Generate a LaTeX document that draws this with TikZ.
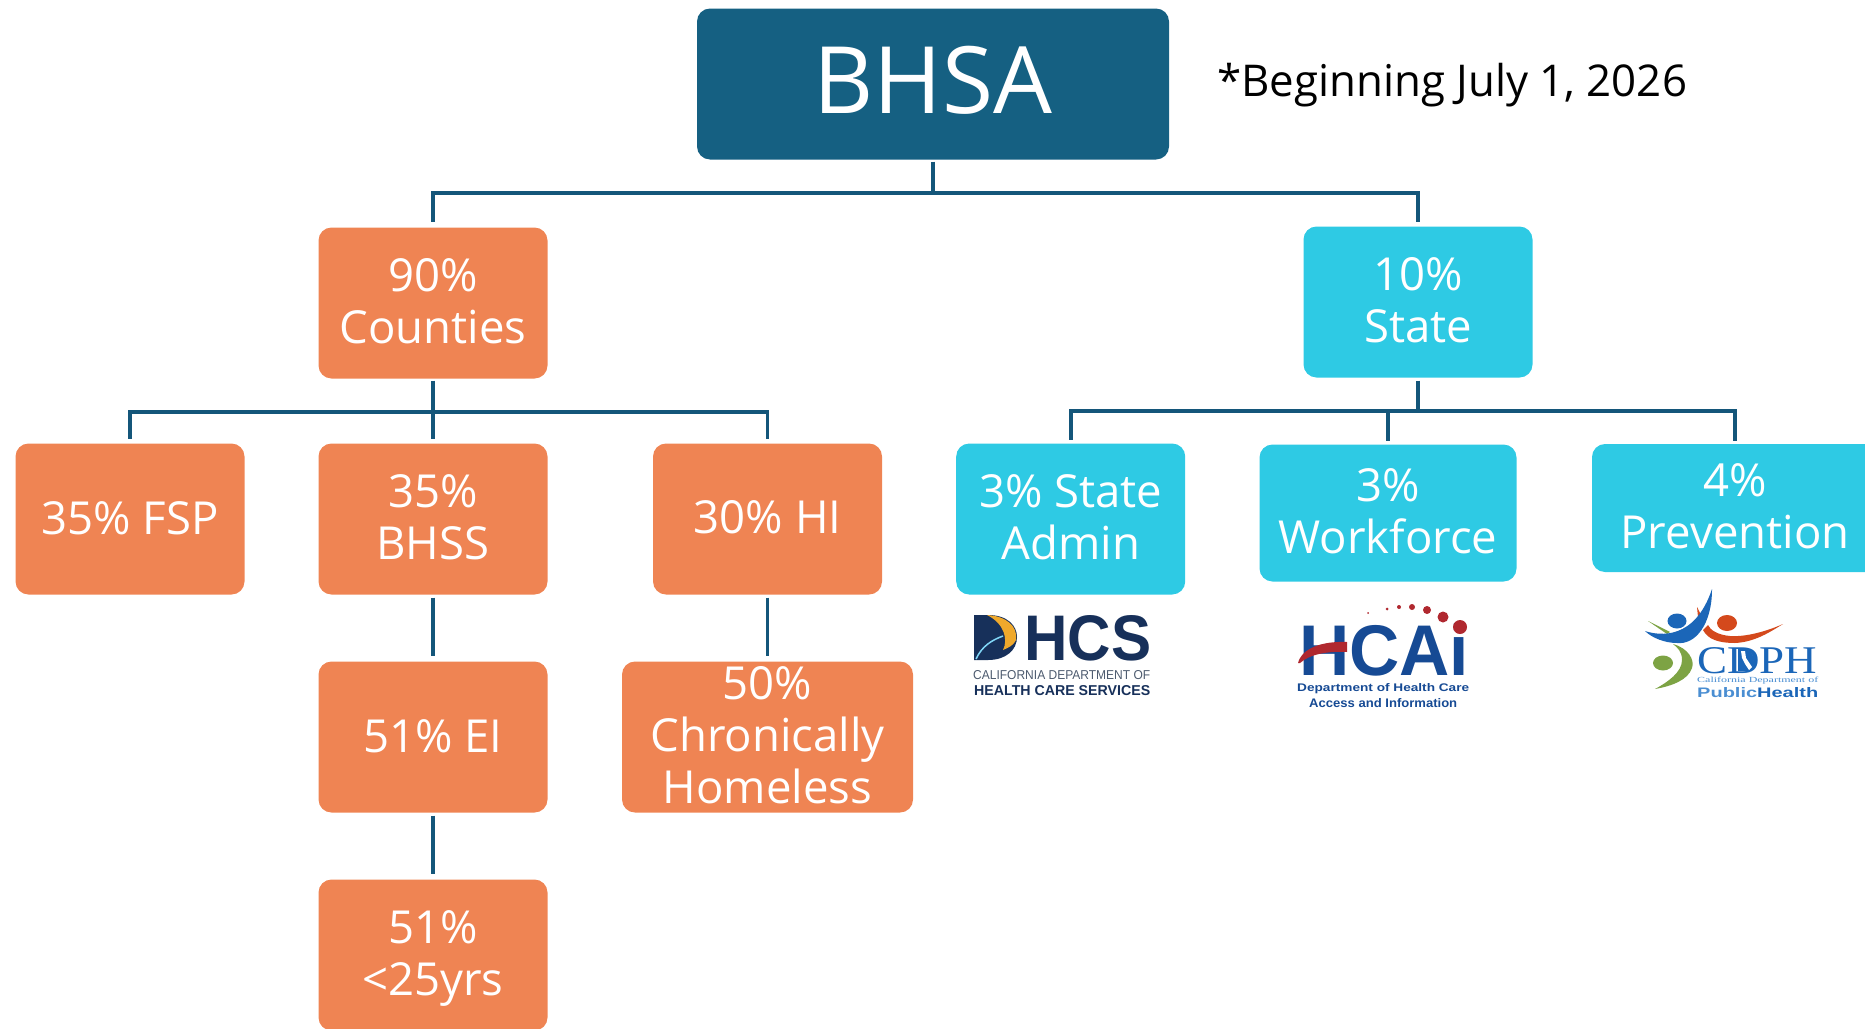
\documentclass[tikz,border=0pt]{standalone}
\usepackage{fontspec}
\usepackage{graphicx}
\setmainfont{Open Sans}
\newfontfamily\serifcdph{Liberation Serif}
\newfontfamily\logosans{Liberation Sans}
\definecolor{navy}{HTML}{156082}
\definecolor{wirec}{HTML}{14567A}
\definecolor{orangebox}{HTML}{EF8453}
\definecolor{cyanbox}{HTML}{2ECAE4}
\definecolor{dhcsnavy}{HTML}{17305A}
\definecolor{dhcsgrey}{HTML}{4C5A6E}
\definecolor{dhcsgold}{HTML}{EFA92C}
\definecolor{hcaiblue}{HTML}{164A94}
\definecolor{hcaired}{HTML}{B0282F}
\definecolor{cdphblue}{HTML}{1B66B8}
\definecolor{cdphorange}{HTML}{D4491C}
\definecolor{cdphgreen}{HTML}{7DA344}
\definecolor{cdphlight}{HTML}{4A8ED2}
\newcommand{\fitbox}[3]{\resizebox{#1pt}{#2pt}{#3}}
\tikzset{
  x=1pt,y=-1pt,
  pbox/.style={rounded corners=13pt,inner sep=0pt,minimum width=229pt,minimum height=151pt},
  lbl/.style={text=white,align=center,inner sep=0pt,font=\fontsize{45.5}{52}\selectfont},
  orangeb/.style={pbox,fill=orangebox},
  cyanb/.style={pbox,fill=cyanbox},
  wire/.style={draw=wirec,line width=3.7pt},
  logotext/.style={inner sep=0pt,anchor=north west,font=\logosans},
}
\begin{document}
\begin{tikzpicture}
\useasboundingbox (0,0) rectangle (1865,1028);
\clip (0,0) rectangle (1865,1028);
% boxes
\node[pbox,fill=navy,minimum width=472pt,minimum height=151pt,label={[lbl,name=bhsat,yshift=3.5pt,font=\fontsize{93}{93}\selectfont]center:BHSA}] (bhsa) at (933,84) {};
\node[inner sep=0pt,anchor=west,font=\fontsize{43.8}{50}\selectfont] (note) at (1217,85.5) {*Beginning July 1, 2026};
\node[orangeb,label={[lbl,name=countiest,yshift=2pt]center:90\%\\Counties}] (counties) at (433,303) {};
\node[cyanb,label={[lbl,name=statet,yshift=2pt]center:10\%\\State}] (state) at (1418,302) {};
\node[orangeb,label={[lbl,name=fspt,yshift=1pt]center:35\% FSP}] (fsp) at (130,519) {};
\node[orangeb,label={[lbl,name=bhsst,yshift=2pt]center:35\%\\BHSS}] (bhss) at (433,519) {};
\node[orangeb,label={[lbl,name=hit,yshift=2pt]center:30\% HI}] (hi) at (767.5,519) {};
\node[orangeb,label={[lbl,name=eit,yshift=1pt]center:51\% EI}] (ei) at (433,737) {};
\node[orangeb,minimum width=291pt,label={[lbl,name=chronict,yshift=2pt]center:50\%\\Chronically\\Homeless}] (chronic) at (767.5,737) {};
\node[orangeb,label={[lbl,name=youtht,yshift=-3pt]center:51\%\\<25yrs}] (youth) at (433,955) {};
\node[cyanb,label={[lbl,name=admint,yshift=2pt]center:3\% State\\Admin}] (admin) at (1070.7,519) {};
\node[cyanb,minimum width=257pt,minimum height=137pt,label={[lbl,name=workt,yshift=2pt]center:3\%\\Workforce}] (work) at (1388,513) {};
\node[cyanb,minimum width=286pt,minimum height=128pt,label={[lbl,name=prevt,yshift=2pt]center:4\%\\Prevention}] (prev) at (1735,508) {};
% connectors
\coordinate (topj) at (933,193);
\coordinate (leftj) at (433,412);
\coordinate (rightj) at (1418,411);
\draw[wire,shorten <=2pt] (bhsa.south) -- (topj);
\draw[wire,shorten >=5pt] (topj) -| (counties.north);
\draw[wire,shorten >=4pt] (topj) -| (state.north);
\draw[wire,shorten <=2pt] (counties.south) -- (leftj);
\draw[wire,shorten >=4pt] (leftj) -| (fsp.north);
\draw[wire,shorten >=4pt] (leftj) -- (bhss.north);
\draw[wire,shorten >=4pt] (leftj) -| (hi.north);
\draw[wire,shorten <=3pt] (state.south) -- (rightj);
\draw[wire,shorten >=3pt] (rightj) -| (admin.north);
\draw[wire,shorten >=3pt] (rightj) -| (work.north);
\draw[wire,shorten >=3pt] (rightj) -| (prev.north);
\draw[wire,shorten <=3pt,shorten >=5pt] (bhss.south) -- (ei.north);
\draw[wire,shorten <=3pt,shorten >=5pt] (hi.south) -- (chronic.north);
\draw[wire,shorten <=3pt,shorten >=5pt] (ei.south) -- (youth.north);
% DHCS logo
\fill[dhcsnavy] (974,615) -- (988,615) .. controls (1008,615) and (1017,626) .. (1017,637) .. controls (1017,650) and (1006,660) .. (988,660) -- (974,660) -- cycle;
\fill[dhcsgold] (987,615) .. controls (1006,616) and (1018,626) .. (1016,640) .. controls (1014,645) and (1008,648) .. (1003,650) .. controls (1008,640) and (1005,624) .. (987,615) -- cycle;
\draw[cyan!50!white,line width=1.5pt] (976,659) .. controls (982,646) and (992,640) .. (1003,636);
\node[logotext,text=dhcsnavy] (dhcst) at (1024,615) {\fitbox{127}{45}{\bfseries HCS}};
\node[logotext,text=dhcsgrey] (dhcsa) at (973,670) {\fitbox{177}{9}{CALIFORNIA DEPARTMENT OF}};
\node[logotext,text=dhcsnavy] (dhcsb) at (974,685) {\fitbox{176}{10}{\bfseries HEALTH CARE SERVICES}};
% HCAI logo
\node[logotext,text=hcaiblue] (hcait) at (1299,623) {\fitbox{170}{52}{\bfseries HCAi}};
\fill[hcaired] (1298,663) .. controls (1302,648) and (1322,641) .. (1347,642) -- (1347,652) .. controls (1328,651) and (1310,654) .. (1300,663) -- cycle;
\fill[hcaired] (1368,613) circle (1pt) (1387,609) circle (1.5pt) (1399,607) circle (2pt) (1412,607) circle (3pt) (1427,610) circle (4pt) (1443,617) circle (5.5pt) (1460,627) circle (7pt);
\node[logotext,text=hcaiblue] (hcaia) at (1297,683) {\fitbox{172}{8}{\bfseries Department of Health Care}};
\node[logotext,text=hcaiblue] (hcaib) at (1309,698) {\fitbox{148}{9}{\bfseries Access and Information}};
% CDPH logo
\fill[cdphgreen] (1648,621) -- (1670,632) -- (1667,634) -- cycle;
\fill[cdphgreen] (1673,644) .. controls (1688,648) and (1695,660) .. (1692,668) .. controls (1688,680) and (1672,686) .. (1655,689) .. controls (1668,682) and (1682,672) .. (1682,660) .. controls (1682,652) and (1678,648) .. (1673,644) -- cycle;
\fill[cdphgreen] (1663,663) ellipse (10pt and 7.5pt);
\fill[cdphorange] (1697,607) -- (1702,617) -- (1699,627) -- cycle;
\fill[cdphorange] (1703,630) .. controls (1708,640) and (1720,643) .. (1735,643) .. controls (1755,642) and (1770,632) .. (1783,624) .. controls (1765,632) and (1745,637) .. (1730,636) .. controls (1718,635) and (1710,630) .. (1708,625) -- cycle;
\fill[cdphorange] (1727,623) ellipse (10pt and 8pt);
\fill[cdphblue] (1645,631) .. controls (1660,636) and (1695,640) .. (1712,589) .. controls (1712,625) and (1695,645) .. (1677,643) .. controls (1665,643) and (1652,638) .. (1645,631) -- cycle;
\fill[cdphblue] (1677,621) ellipse (9.5pt and 7.5pt);
\node[logotext,text=cdphblue] (cdpht) at (1697,647) {\fitbox{120}{26}{\serifcdph CDPH}};
\fill[cdphblue] (1738,649) -- (1746,649) .. controls (1755,652) and (1757,665) .. (1748,671) -- (1738,671) -- cycle;
\fill[white] (1741,651) -- (1745,651) -- (1746,658) -- (1752,667) -- (1749,670) -- (1745,664) -- (1742,658) -- cycle;
\node[logotext,text=cdphlight] (cdpha) at (1697,677) {\fitbox{121}{5.5}{\serifcdph California Department of}};
\node[logotext] (cdphb) at (1697,687) {\fitbox{121}{10}{\bfseries\textcolor{cdphlight}{Public}\textcolor{cdphblue}{Health}}};
\end{tikzpicture}
\end{document}
